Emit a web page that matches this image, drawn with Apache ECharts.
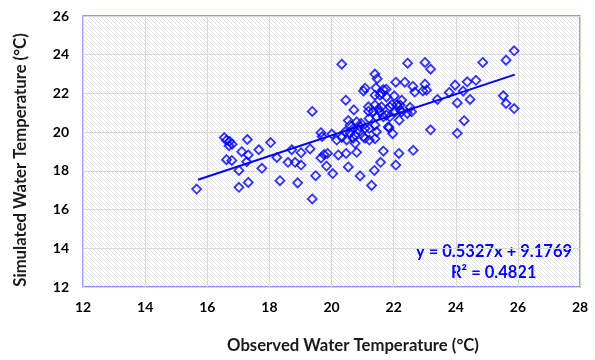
<!DOCTYPE html>
<html>
<head>
<meta charset="utf-8">
<script src="https://cdn.jsdelivr.net/npm/echarts@6/dist/echarts.min.js"></script>
<style>html,body{margin:0;padding:0;background:#fff}#c{width:595px;height:360px}</style>
</head>
<body>
<div id="c"></div>
<script>
var obsX = [15.66,16.55,16.62,16.72,16.80,16.70,16.62,16.79,17.29,17.11,17.32,17.27,17.66,17.02,17.76,17.02,17.32,18.04,18.24,18.34,
18.60,18.83,19.02,18.72,19.02,19.31,18.91,19.38,19.49,19.38,19.66,19.70,19.66,19.76,19.87,19.84,20.04,20.01,20.22,20.47,
20.81,20.54,20.92,21.29,21.38,21.58,22.07,21.67,22.17,22.63,20.33,20.46,20.72,20.54,20.17,20.33,20.44,20.76,20.60,20.70,
20.81,20.92,21.03,21.22,21.40,21.45,21.22,21.40,21.21,21.83,21.97,21.85,20.76,21.03,21.08,21.40,21.47,21.43,21.67,21.76,
21.56,21.77,22.02,22.07,22.36,22.62,22.68,22.26,21.19,21.40,21.61,21.88,22.10,22.53,21.19,21.56,21.77,22.05,22.26,22.44,
22.18,22.58,22.45,23.01,23.19,22.94,23.06,23.01,23.41,23.19,23.79,23.98,24.37,24.65,24.24,24.05,24.46,24.87,25.62,25.88,
25.53,25.62,25.88,24.27,24.05,21.40,21.62,22.21,21.94,21.51,21.35,22.21,21.45,21.67,21.88,20.86,21.08,20.70,21.08,20.49,
20.60,20.95];
var simY = [17.06,19.72,19.58,19.52,19.38,19.30,18.58,18.54,19.62,18.99,18.82,18.47,19.09,18.02,18.13,17.15,17.40,19.46,18.69,17.49,
18.44,18.44,18.30,19.09,18.94,19.13,17.38,16.55,17.75,21.07,19.97,19.77,18.66,18.84,18.90,18.25,17.86,19.90,18.82,18.90,
18.96,18.20,17.74,17.25,18.02,18.44,18.30,19.02,18.90,19.06,23.51,21.65,21.15,20.60,19.59,19.73,20.02,19.85,20.36,20.19,
20.53,20.28,19.76,19.59,19.66,20.02,20.19,20.36,20.71,20.28,19.92,20.22,19.42,22.13,22.27,23.00,22.76,22.29,22.20,22.22,
21.91,21.82,21.87,22.58,22.58,22.36,22.07,21.65,21.31,21.40,21.31,21.31,21.40,21.28,21.08,21.05,20.88,21.05,21.05,20.97,
20.62,21.05,23.56,23.60,23.25,22.13,22.17,22.48,21.69,20.12,22.05,22.43,22.60,22.68,22.12,21.51,21.69,23.60,23.72,24.20,
21.88,21.48,21.22,20.59,19.94,21.91,22.00,21.40,21.42,21.20,21.05,21.14,20.79,20.79,20.79,20.11,20.19,19.68,19.68,19.60,
19.95,20.45];
var trendX = [15.70, 25.90];
var trendY = [17.54, 22.97];
var xTicks = [12,14,16,18,20,22,24,26,28];
var yTicks = [12,14,16,18,20,22,24,26];
var xTitle = 'Observed Water Temperature (°C)';
var yTitle = 'Simulated Water Temperature (°C)';
var eqText = 'y = 0.5327x + 9.1769';
var r2Text = 'R² = 0.4821';

var pts = obsX.map(function(x,i){return [x, simY[i]];});
var trend = trendX.map(function(x,i){return [x, trendY[i]];});

var pc = document.createElement('canvas');
pc.width = 4; pc.height = 4;
var g = pc.getContext('2d');
g.fillStyle = '#ffffff'; g.fillRect(0,0,4,4);
g.strokeStyle = '#e3e3e3'; g.lineWidth = 1;
g.beginPath(); g.moveTo(0,0); g.lineTo(4,4); g.stroke();
g.beginPath(); g.moveTo(-1,3); g.lineTo(1,5); g.stroke();
g.beginPath(); g.moveTo(3,-1); g.lineTo(5,1); g.stroke();

var chart = echarts.init(document.getElementById('c'), null, {renderer:'canvas'});
var font = 'Lato, "Open Sans", sans-serif';
chart.setOption({
  animation: false,
  grid: {left: 83, right: 15, top: 16, bottom: 73, show: true,
    backgroundColor: {image: pc, repeat: 'repeat'},
    borderColor: '#7070f0', borderWidth: 1.3},
  xAxis: {type: 'value', min: xTicks[0], max: xTicks[xTicks.length-1], interval: 2,
    axisLine: {show: false}, axisTick: {show: false},
    axisLabel: {fontFamily: font, fontSize: 14, fontWeight: 'bold', color: '#000', margin: 13},
    splitLine: {show: true, lineStyle: {color: '#d9d9d9', width: 1}}},
  yAxis: {type: 'value', min: yTicks[0], max: yTicks[yTicks.length-1], interval: 2,
    axisLine: {show: false}, axisTick: {show: false},
    axisLabel: {fontFamily: font, fontSize: 14, fontWeight: 'bold', color: '#000', margin: 14},
    splitLine: {show: true, lineStyle: {color: '#d9d9d9', width: 1}}},
  series: [
    {type: 'scatter', data: pts, symbol: 'diamond', symbolSize: [9,9],
      itemStyle: {color: 'rgba(0,0,0,0)', borderColor: '#0000ff', borderWidth: 1.8}},
    {type: 'line', data: trend, symbol: 'none', lineStyle: {color: '#0000ff', width: 2}}
  ],
  graphic: [
    {type: 'text', x: 353, y: 346, style: {text: xTitle, fontFamily: font, fontSize: 16.7, fontWeight: 'bold', fill: '#1a1a1a', align: 'center', verticalAlign: 'middle'}},
    {type: 'text', x: 21, y: 160, rotation: Math.PI/2, style: {text: yTitle, fontFamily: font, fontSize: 16.7, fontWeight: 'bold', fill: '#1a1a1a', align: 'center', verticalAlign: 'middle'}},
    {type: 'text', left: 416, top: 243, style: {text: eqText, fontFamily: font, fontSize: 16.5, fontWeight: 'bold', fill: '#0000ff'}},
    {type: 'text', left: 451, top: 264, style: {text: r2Text, fontFamily: font, fontSize: 16.5, fontWeight: 'bold', fill: '#0000ff'}}
  ]
});
</script>
</body>
</html>
